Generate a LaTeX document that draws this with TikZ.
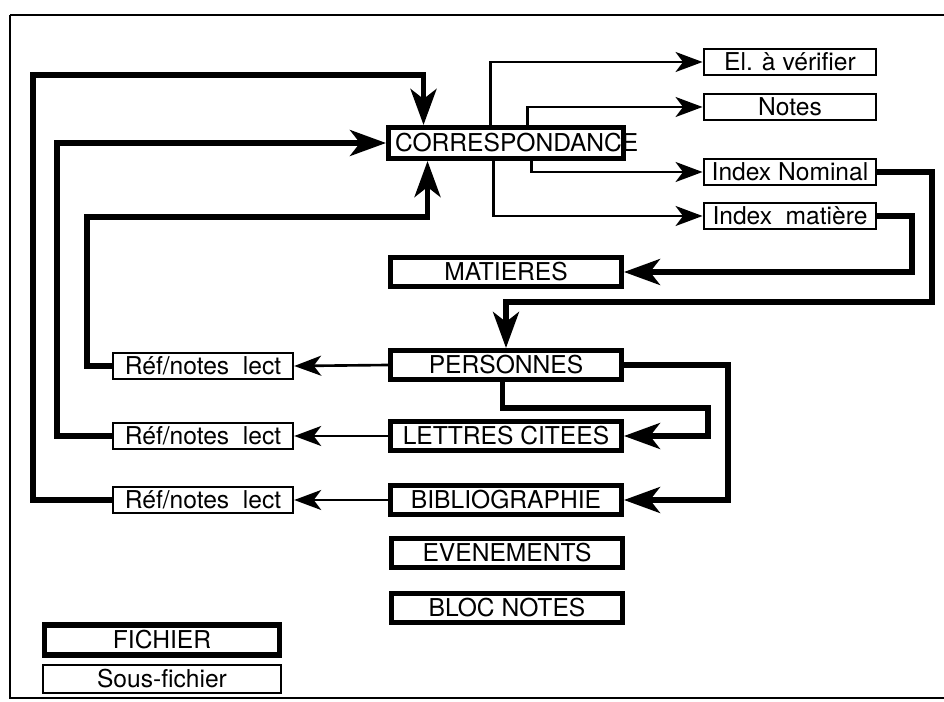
\documentclass[tikz,border=0pt]{standalone}
\usepackage{fontspec}
\setmainfont{TeX Gyre Heros}
\usepackage{tikz}
\usetikzlibrary{arrows.meta}
\tikzset{
  fichier/.style={draw, line width=2.9pt, fill=white, inner sep=0pt,
    minimum width=4.62cm, minimum height=0.58cm, font=\fontsize{14}{16}\selectfont},
  sousfichier/.style={draw, line width=1.4pt, fill=white, inner sep=0pt,
    minimum width=3.45cm, minimum height=0.53cm, font=\fontsize{14}{16}\selectfont},
  biglink/.style={line width=2.9pt, -{Stealth[length=0.72cm, width=0.52cm, inset=0.2cm]}},
  smalllink/.style={line width=1.5pt, -{Stealth[length=0.54cm, width=0.4cm, inset=0.15cm]}}
}

\begin{document}
\begin{tikzpicture}[x=0.02cm, y=-0.02cm]
  \useasboundingbox (0,0) rectangle (944,702);

  % page frame
  \draw[line width=1.6pt] (944,15) -- (10,15);
  \draw[line width=1.2pt] (10,15) -- (10,698) -- (944,698);

  % main files
  \node[fichier, minimum width=4.7cm, minimum height=0.62cm] (corr) at (506,143)
    {\makebox[4.6cm][l]{\hspace{0.08cm}CORRESPONDANCE}};
  \node[fichier] (mat) at (506,272) {MATIERES};
  \node[fichier] (pers) at (506,365) {PERSONNES};
  \node[fichier] (lett) at (506,436) {LETTRES CITEES};
  \node[fichier] (bib) at (506,500) {BIBLIOGRAPHIE};
  \node[fichier] (even) at (507,553) {EVENEMENTS};
  \node[fichier] (bloc) at (507,608) {BLOC NOTES};

  % sub-files of CORRESPONDANCE
  \node[sousfichier] (elv) at (790,62) {El. à vérifier};
  \node[sousfichier] (notes) at (790,107) {Notes};
  \node[sousfichier] (inom) at (790,172) {Index Nominal};
  \node[sousfichier] (imat) at (790,216) {Index\ \ matière};

  % reading notes
  \foreach \name/\y in {ref1/366, ref2/436, ref3/500} {
    \node[sousfichier, minimum width=3.6cm, minimum height=0.51cm] (\name) at (203,\y) {Réf/notes\ \ lect};
  }

  % legend
  \node[fichier, minimum width=4.7cm, minimum height=0.6cm] (leg1) at (162,640) {FICHIER};
  \node[sousfichier, minimum width=4.77cm, minimum height=0.56cm] (leg2) at (162,679) {Sous-fichier};

  % CORRESPONDANCE to its sub-files
  \draw[smalllink] ([xshift=-0.31cm]corr.north) |- (elv.west);
  \draw[smalllink] ([xshift=0.43cm]corr.north) |- (notes.west);
  \draw[smalllink] ([xshift=0.51cm]corr.south) |- (inom.west);
  \draw[smalllink] ([xshift=-0.25cm]corr.south) |- (imat.west);

  % indexes back to the files
  \draw[biglink] (inom.east) -| (932,302) -| (pers.north);
  \draw[biglink] (imat.east) -| (912,272) -- (mat.east);
  \draw[biglink] (pers.east) -| (728,500) -- (bib.east);
  \draw[biglink] ([xshift=-0.07cm]pers.south) |- (708,408) |- (lett.east);

  % files to reading notes
  \draw[smalllink] (pers.west) -- (ref1.east);
  \draw[smalllink] (lett.west) -- (ref2.east);
  \draw[smalllink] (bib.west) -- (ref3.east);

  % reading notes back to CORRESPONDANCE
  \draw[biglink] (ref3.west) -| (33,75) -| ([xshift=-1.65cm]corr.north);
  \draw[biglink] (ref2.west) -| (57,143) -- (corr.west);
  \draw[biglink] (ref1.west) -| (87,217) -| ([xshift=-1.57cm]corr.south);
\end{tikzpicture}
\end{document}
